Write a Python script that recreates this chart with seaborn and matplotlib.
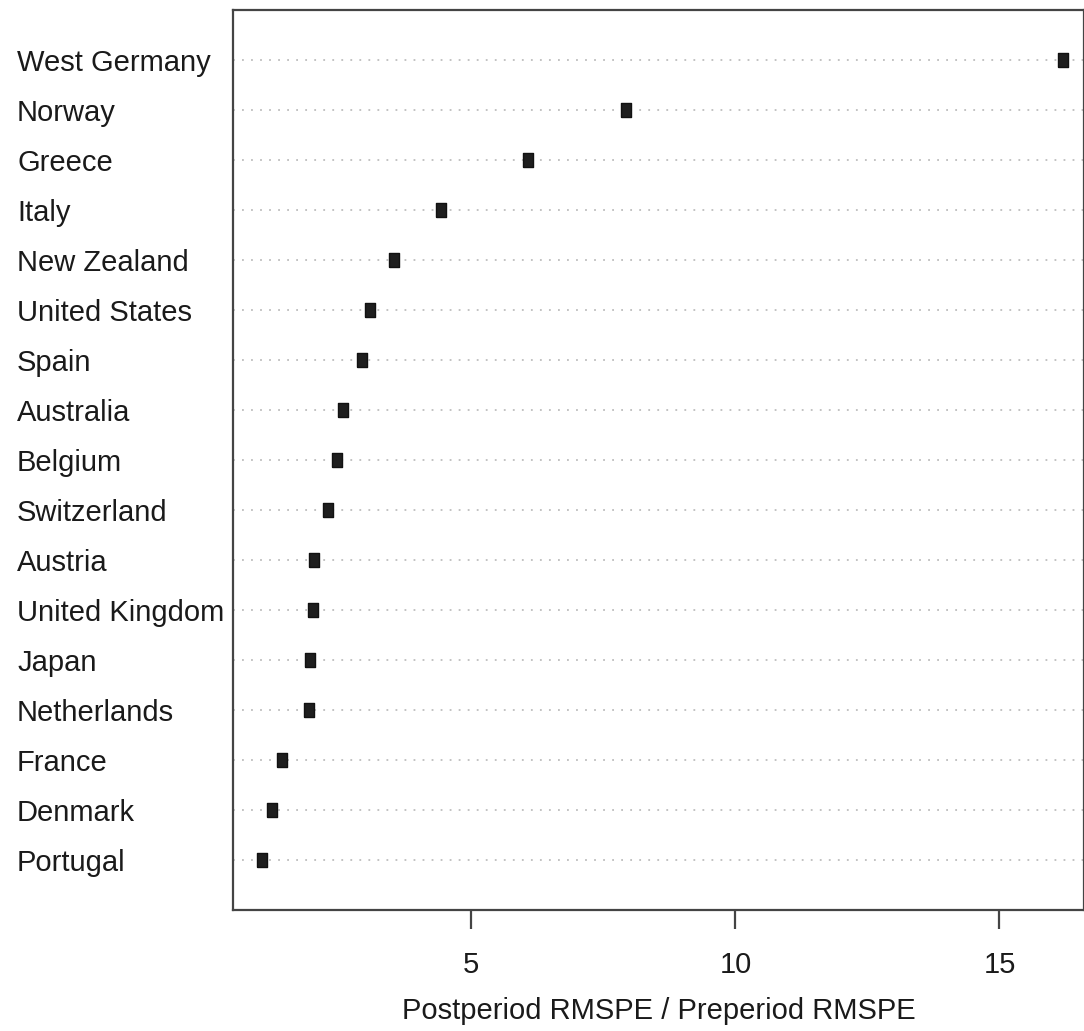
import numpy as np
import pandas as pd
import matplotlib
matplotlib.use("Agg")
import matplotlib.pyplot as plt
import seaborn as sns

countries = ["West Germany", "Norway", "Greece", "Italy", "New Zealand",
             "United States", "Spain", "Australia", "Belgium", "Switzerland",
             "Austria", "United Kingdom", "Japan", "Netherlands", "France",
             "Denmark", "Portugal"]
ratio = [16.21, 7.92, 6.08, 4.43, 3.54, 3.09, 2.94, 2.58, 2.46, 2.29,
         2.03, 2.01, 1.95, 1.93, 1.42, 1.23, 1.04]
xticks = [5, 10, 15]

df = pd.DataFrame({"country": countries, "ratio": ratio})

sns.set_style("white")
plt.rcParams["font.family"] = ["Liberation Sans", "DejaVu Sans"]

fig = plt.figure(figsize=(10.84, 10.31), dpi=100)
ax = fig.add_axes([0.215, 0.1174, 0.785, 0.873])

# dotted guide line per row
for i in range(len(countries)):
    ax.axhline(i, color="#bdbdbd", linestyle=(0, (1, 4)), linewidth=1.3, zorder=0)

# taller-than-wide box, like the R symbol at this resolution
box = [(-0.62, -1), (0.62, -1), (0.62, 1), (-0.62, 1), (-0.62, -1)]
sns.stripplot(data=df, x="ratio", y="country", order=countries, jitter=False,
              marker=box, size=10.5, color="#1e1e1e", edgecolor="#111111",
              linewidth=1, ax=ax, zorder=3)

ax.set_xlim(0.49, 16.6)
ax.set_ylim(17, -1)
ax.set_xticks(xticks)
ax.set_xticklabels([str(t) for t in xticks], fontsize=21, color="#1a1a1a")
ax.set_xlabel("Postperiod RMSPE / Preperiod RMSPE", fontsize=21, color="#1a1a1a", labelpad=13)
ax.set_ylabel("")

ax.tick_params(axis="x", direction="out", length=13.5, width=1.6, color="#444444", pad=16,
               bottom=True)
ax.tick_params(axis="y", length=0, pad=155.5, labelsize=21, labelcolor="#1a1a1a")
for lab in ax.get_yticklabels():
    lab.set_ha("left")

for side in ["left", "bottom", "top", "right"]:
    ax.spines[side].set_visible(True)
    ax.spines[side].set_color("#444444")
    ax.spines[side].set_linewidth(1.6)

fig.savefig("out.png", dpi=100)
